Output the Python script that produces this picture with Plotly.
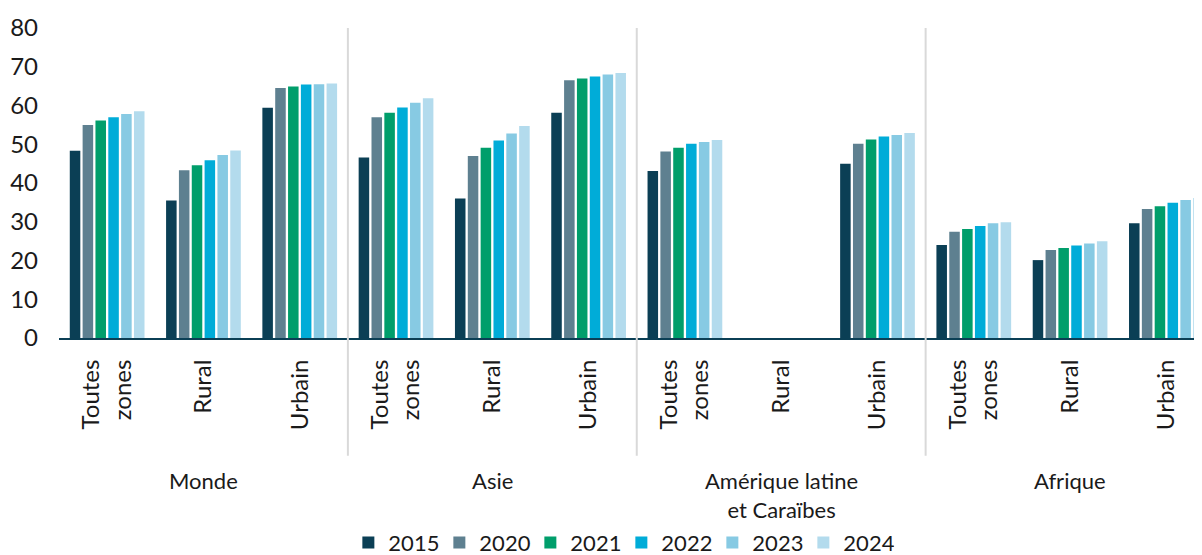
import plotly.graph_objects as go

regions = ["Monde", "Asie", "Amérique latine<br>et Caraïbes", "Afrique"]
zones = ["Toutes<br>zones", "Rural", "Urbain"]
years = ["2015", "2020", "2021", "2022", "2023", "2024"]

# one value per (region, zone), in order Monde / Asie / Amérique latine / Afrique
v2015 = [48.3, 35.5, 59.4, 46.6, 36.0, 58.1, 43.1, None, 45.0, 24.0, 20.1, 29.6]
v2020 = [55.0, 43.3, 64.5, 57.0, 47.0, 66.5, 48.1, None, 50.1, 27.4, 22.7, 33.3]
v2021 = [56.1, 44.6, 64.9, 58.1, 49.1, 67.0, 49.1, None, 51.2, 28.1, 23.2, 34.0]
v2022 = [57.0, 45.9, 65.4, 59.5, 51.0, 67.5, 50.1, None, 52.0, 28.9, 23.9, 34.9]
v2023 = [57.8, 47.2, 65.5, 60.7, 52.8, 68.0, 50.6, None, 52.4, 29.6, 24.4, 35.6]
v2024 = [58.5, 48.4, 65.7, 61.9, 54.7, 68.4, 51.1, None, 52.9, 29.9, 25.0, 36.1]
values = [v2015, v2020, v2021, v2022, v2023, v2024]

colors = ["#0b3f55", "#5e8090", "#009e6b", "#00acd8", "#87cae3", "#b3dbed"]

font = "Lato, 'Open Sans', sans-serif"
txt = "#1a1a1a"

positions = list(range(len(regions) * len(zones)))
tick_text = zones * len(regions)

fig = go.Figure()
for yr, vals, col in zip(years, values, colors):
    fig.add_trace(go.Bar(x=positions, y=vals, name=yr, marker_color=col,
                         marker_line_width=0))

# group separators
for i in range(1, len(regions)):
    fig.add_shape(type="line", xref="x", yref="paper",
                  x0=i * len(zones) - 0.5, x1=i * len(zones) - 0.5,
                  y0=1.0, y1=-0.38, line=dict(color="#d9d9d9", width=2))

# region labels
for i, r in enumerate(regions):
    fig.add_annotation(x=i * len(zones) + 1, y=-0.41, xref="x", yref="paper",
                       text=r, showarrow=False, yanchor="top",
                       font=dict(size=22, color=txt, family=font))

# the page body adds 8px around the plot div, so the figure is a bit smaller
fig.update_layout(
    width=1194, height=547,
    margin=dict(l=51, r=0, t=20, b=217, autoexpand=False),
    plot_bgcolor="white", paper_bgcolor="white",
    font=dict(family=font, size=22, color=txt),
    barmode="group", bargap=0.2, bargroupgap=0.18,
    showlegend=True,
    legend=dict(orientation="h", x=0.492, xanchor="center", y=-0.66,
                yanchor="middle", font=dict(size=22, color=txt),
                itemwidth=30, entrywidth=46, tracegroupgap=0),
)
fig.update_xaxes(range=[-0.5, 11.37], tickmode="array", tickvals=positions,
                 ticktext=tick_text, tickangle=-90, showgrid=False,
                 showline=True, linecolor="#0b3f55", linewidth=2,
                 ticks="", ticklabelstandoff=10, tickfont=dict(size=24),
                 automargin=False)
fig.update_yaxes(range=[0, 80], dtick=10, showgrid=False, zeroline=False,
                 showline=False, ticks="", ticklabelstandoff=20,
                 tickfont=dict(size=24), automargin=False)

fig.write_html("out.html")
